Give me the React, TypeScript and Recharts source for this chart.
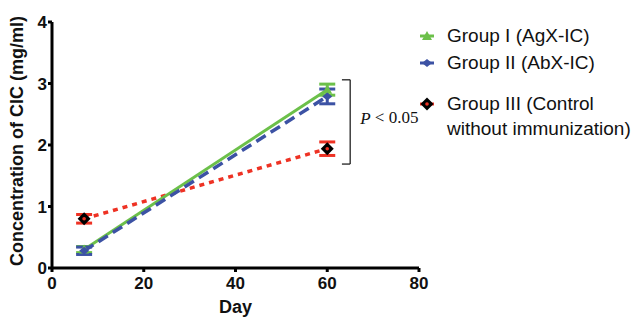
import { LineChart, Line, XAxis, YAxis, ErrorBar, ReferenceLine } from 'recharts'

const days = [7, 60]
const groupI = [0.3, 2.9]
const groupIErr = [0.05, 0.09]
const groupII = [0.28, 2.79]
const groupIIErr = [0.06, 0.12]
const groupIII = [0.8, 1.94]
const groupIIIErr = [0.07, 0.11]

const xTicks = [0, 20, 40, 60, 80]
const yTicks = [0, 1, 2, 3, 4]

const GREEN = '#6cc04a'
const BLUE = '#3c52a4'
const RED = '#ee3224'

const legendItems = [
  { label: ['Group I (AgX-IC)'], color: GREEN, marker: 'triangle' },
  { label: ['Group II (AbX-IC)'], color: BLUE, marker: 'diamond' },
  { label: ['Group III (Control', 'without immunization)'], color: RED, marker: 'black' },
]

const data = days.map((d, i) => ({
  day: d,
  g1: groupI[i],
  e1: groupIErr[i],
  g2: groupII[i],
  e2: groupIIErr[i],
  g3: groupIII[i],
  e3: groupIIIErr[i],
}))

const font = '"Liberation Sans", Arial, sans-serif'

function Marker({ type, color, cx, cy }: { type: string; color: string; cx: number; cy: number }) {
  if (type === 'triangle') {
    return <path d={`M${cx - 5},${cy + 4} L${cx},${cy - 5} L${cx + 5},${cy + 4} Z`} fill={color} />
  }
  if (type === 'diamond') {
    return <path d={`M${cx - 5},${cy} L${cx},${cy - 4} L${cx + 5},${cy} L${cx},${cy + 4} Z`} fill={color} />
  }
  return (
    <g>
      <path d={`M${cx - 6.5},${cy} L${cx},${cy - 6.5} L${cx + 6.5},${cy} L${cx},${cy + 6.5} Z`} fill="#000" />
      <circle cx={cx} cy={cy} r={1.8} fill={RED} />
    </g>
  )
}

const dot = (type: string, color: string) => (props: any) =>
  <Marker key={`${type}-${props.index}`} type={type} color={color} cx={props.cx} cy={props.cy} />

function ChartLegend() {
  return (
    <div style={{ position: 'absolute', left: 417, top: 24, fontFamily: font, fontSize: 19, color: '#111' }}>
      {legendItems.map((item, i) => (
        <div key={i} style={{ display: 'flex', alignItems: 'flex-start', marginBottom: i === 0 ? 3 : 17 }}>
          <svg width={30} height={24} style={{ flex: 'none' }}>
            <line x1={3} x2={17} y1={12} y2={12} stroke={item.color} strokeWidth={3} />
            <Marker type={item.marker} color={item.color} cx={10} cy={12} />
          </svg>
          <div style={{ lineHeight: '25px', marginTop: -1 }}>
            {item.label.map((l, j) => <div key={j}>{l}</div>)}
          </div>
        </div>
      ))}
    </div>
  )
}

export default function App() {
  return (
    <div style={{ position: 'absolute', left: 0, top: 0, width: 639, height: 322, background: '#fff' }}>
      <LineChart width={639} height={322} data={data} margin={{ top: 22, right: 220, bottom: 24, left: 0 }}>
        <XAxis
          dataKey="day"
          type="number"
          domain={[0, 80]}
          ticks={xTicks}
          height={30}
          axisLine={{ stroke: '#000', strokeWidth: 3 }}
          tickLine={{ stroke: '#000', strokeWidth: 3 }}
          tickSize={4}
          tickMargin={5}
          tick={{ fill: '#111', fontSize: 17, fontWeight: 'bold', fontFamily: font }}
          label={{ value: 'Day', position: 'bottom', offset: 2, fill: '#111', fontSize: 18, fontWeight: 'bold', fontFamily: font }}
        />
        <YAxis
          type="number"
          domain={[0, 4]}
          ticks={yTicks}
          width={52}
          axisLine={{ stroke: '#000', strokeWidth: 3 }}
          tickLine={{ stroke: '#000', strokeWidth: 3 }}
          tickSize={4}
          tickMargin={1}
          tick={{ fill: '#111', fontSize: 17, fontWeight: 'bold', fontFamily: font }}
          label={{
            content: ({ viewBox }: any) => (
              <text
                x={17}
                y={viewBox.y + viewBox.height / 2 - 4}
                transform={`rotate(-90 17 ${viewBox.y + viewBox.height / 2 - 4})`}
                textAnchor="middle"
                dominantBaseline="central"
                fill="#111"
                fontSize={18}
                fontWeight="bold"
                fontFamily={font}
              >
                Concentration of CIC (mg/ml)
              </text>
            ),
          }}
        />
        <ReferenceLine segment={[{ x: 63.2, y: 3.06 }, { x: 65, y: 3.06 }]} stroke="#222" strokeWidth={1.3} ifOverflow="visible" />
        <ReferenceLine segment={[{ x: 63.2, y: 1.69 }, { x: 65, y: 1.69 }]} stroke="#222" strokeWidth={1.3} ifOverflow="visible" />
        <ReferenceLine
          segment={[{ x: 65, y: 3.06 }, { x: 65, y: 1.69 }]}
          stroke="#222"
          strokeWidth={1.3}
          ifOverflow="visible"
          label={{
            content: ({ viewBox }: any) => (
              <text
                x={viewBox.x + 10}
                y={viewBox.y + viewBox.height / 2 - 4}
                dominantBaseline="central"
                fontFamily='"Liberation Serif", "Times New Roman", serif'
                fontSize={17}
                fill="#111"
              >
                <tspan fontStyle="italic">P</tspan> &lt; 0.05
              </text>
            ),
          }}
        />
        <Line
          dataKey="g3"
          stroke={RED}
          strokeWidth={3.5}
          strokeDasharray="5 5"
          dot={dot('black', RED)}
          isAnimationActive={false}
        >
          <ErrorBar dataKey="e3" width={8} stroke={RED} strokeWidth={3} />
        </Line>
        <Line
          dataKey="g1"
          stroke={GREEN}
          strokeWidth={3}
          dot={dot('triangle', GREEN)}
          isAnimationActive={false}
        >
          <ErrorBar dataKey="e1" width={8} stroke={GREEN} strokeWidth={3} />
        </Line>
        <Line
          dataKey="g2"
          stroke={BLUE}
          strokeWidth={3.5}
          strokeDasharray="11 6"
          dot={dot('diamond', BLUE)}
          isAnimationActive={false}
        >
          <ErrorBar dataKey="e2" width={8} stroke={BLUE} strokeWidth={3} />
        </Line>
      </LineChart>
      <ChartLegend />
    </div>
  )
}
